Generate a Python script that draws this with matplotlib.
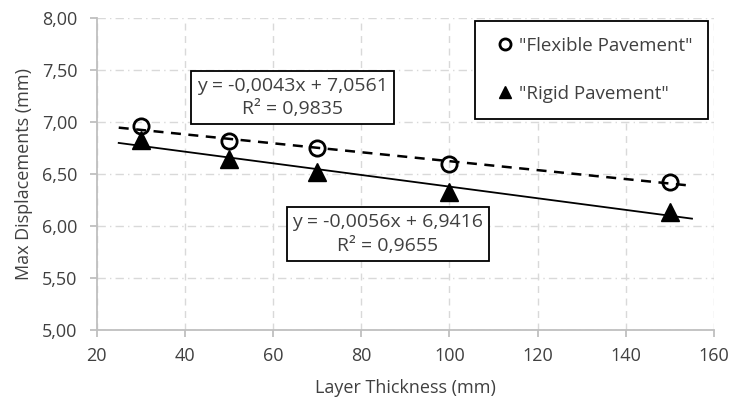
import numpy as np
import matplotlib.pyplot as plt

# thickness of the layer (mm) and maximum displacements (mm)
thickness = [30, 50, 70, 100, 150]
flexible = [6.96, 6.82, 6.75, 6.60, 6.43]
rigid = [6.83, 6.65, 6.52, 6.33, 6.14]

# linear trendlines as given in the labels
flex_fit = (-0.0043, 7.0561, 0.9835)
rigid_fit = (-0.0056, 6.9416, 0.9655)
fit_range = [25, 155]

x_ticks = [20, 40, 60, 80, 100, 120, 140, 160]
y_ticks = [5.0, 5.5, 6.0, 6.5, 7.0, 7.5, 8.0]

plt.rcParams['font.family'] = ['Open Sans', 'DejaVu Sans']
gris_texto = '#404040'
gris_eje = '#bfbfbf'
gris_malla = '#d9d9d9'


def fmt(v, dec):
    return ('{:.%df}' % dec).format(v).replace('.', ',')


def main():
    fig = plt.figure(figsize=(7.34, 4.01), dpi=100)
    ax = fig.add_axes([0.1317, 0.1763, 0.8411, 0.7781])

    # trendlines
    xf = np.array(fit_range, dtype=float)
    ax.plot(xf, flex_fit[0] * xf + flex_fit[1], color='black', lw=1.8,
            ls=(0, (4, 3)), zorder=2)
    ax.plot(xf, rigid_fit[0] * xf + rigid_fit[1], color='black', lw=1.3,
            zorder=2)

    # data points
    ax.plot(thickness, flexible, ls='none', marker='o', ms=11,
            mfc='none', mec='black', mew=2, label='"Flexible Pavement"', zorder=3)
    ax.plot(thickness, rigid, ls='none', marker='^', ms=13,
            color='black', label='"Rigid Pavement"', zorder=3)

    ax.set_xlim(20, 160)
    ax.set_ylim(5, 8)
    ax.set_xticks(x_ticks)
    ax.set_yticks(y_ticks)
    ax.set_yticklabels([fmt(v, 2) for v in y_ticks])

    # grid
    ax.yaxis.grid(True, color=gris_malla, lw=1, ls=(0, (6, 3, 1, 3)))
    ax.xaxis.grid(True, color=gris_malla, lw=1, ls=(0, (5, 4)))
    ax.set_axisbelow(True)

    for lado in ['top', 'right']:
        ax.spines[lado].set_visible(False)
    for lado in ['left', 'bottom']:
        ax.spines[lado].set_color(gris_eje)
        ax.spines[lado].set_linewidth(1.3)
    ax.tick_params(axis='both', colors=gris_eje, length=5, width=1.3,
                   labelcolor=gris_texto, labelsize=13)
    ax.tick_params(axis='x', pad=7)
    ax.tick_params(axis='y', pad=9)

    ax.set_xlabel('Layer Thickness (mm)', fontsize=13, color=gris_texto,
                  labelpad=10)
    ax.set_ylabel('Max Displacements (mm)', fontsize=13, color=gris_texto,
                  labelpad=6)

    # equation boxes
    caja = dict(boxstyle='square,pad=0.3', fc='white', ec='black', lw=1.3)
    for fit, (xt, yt) in [(flex_fit, (64.4, 7.237)), (rigid_fit, (86.05, 5.926))]:
        texto = 'y = {}x + {}\nR² = {}'.format(fmt(fit[0], 4), fmt(fit[1], 4),
                                               fmt(fit[2], 4))
        ax.text(xt, yt, texto, ha='center', va='center', multialignment='center',
                fontsize=14, color=gris_texto, bbox=caja, zorder=4,
                linespacing=1.4)

    leg = ax.legend(loc='upper right', bbox_to_anchor=(708 / 734, 1 - 20.7 / 401),
                    bbox_transform=fig.transFigure, borderaxespad=0,
                    fancybox=False, edgecolor='black', fontsize=13.5,
                    labelspacing=1.6, handlelength=1.4, handletextpad=0.05,
                    borderpad=0.85, frameon=True, framealpha=1)
    leg.get_frame().set_linewidth(1.3)
    for t in leg.get_texts():
        t.set_color(gris_texto)
    leg.legend_handles[0].set_markersize(8)
    leg.legend_handles[1].set_markersize(9)

    fig.savefig('out.png', dpi=100)


if __name__ == '__main__':
    main()
